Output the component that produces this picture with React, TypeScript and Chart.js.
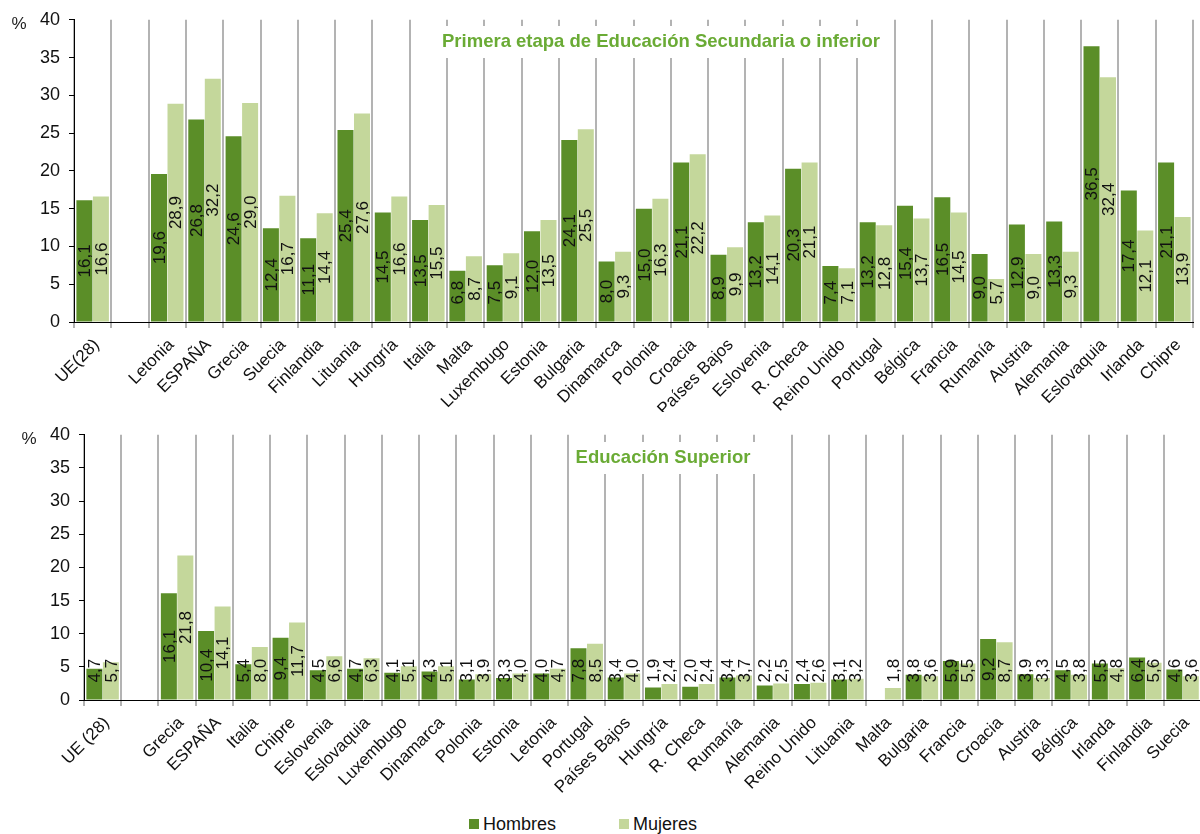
import React, { useEffect, useRef } from 'react';
import { Chart, registerables } from 'chart.js';

Chart.register(...registerables);

const FONT = "'Liberation Sans', Arial, Helvetica, sans-serif";
const DARK = '#5b8e28';
const LIGHT = '#c4d79b';
const TITLE_COLOR = '#6aab35';
const GRID = '#b3b3b3';

const SERIES_NAMES = ['Hombres', 'Mujeres'];

const secCategories = [
  'UE(28)', '', 'Letonia', 'ESPAÑA', 'Grecia', 'Suecia', 'Finlandia', 'Lituania', 'Hungría', 'Italia',
  'Malta', 'Luxembugo', 'Estonia', 'Bulgaria', 'Dinamarca', 'Polonia', 'Croacia', 'Países Bajos',
  'Eslovenia', 'R. Checa', 'Reino Unido', 'Portugal', 'Bélgica', 'Francia', 'Rumanía', 'Austria',
  'Alemania', 'Eslovaquia', 'Irlanda', 'Chipre',
];
const secHombres = [
  16.1, null, 19.6, 26.8, 24.6, 12.4, 11.1, 25.4, 14.5, 13.5,
  6.8, 7.5, 12.0, 24.1, 8.0, 15.0, 21.1, 8.9,
  13.2, 20.3, 7.4, 13.2, 15.4, 16.5, 9.0, 12.9,
  13.3, 36.5, 17.4, 21.1,
];
const secMujeres = [
  16.6, null, 28.9, 32.2, 29.0, 16.7, 14.4, 27.6, 16.6, 15.5,
  8.7, 9.1, 13.5, 25.5, 9.3, 16.3, 22.2, 9.9,
  14.1, 21.1, 7.1, 12.8, 13.7, 14.5, 5.7, 9.0,
  9.3, 32.4, 12.1, 13.9,
];

const supCategories = [
  'UE (28)', '', 'Grecia', 'ESPAÑA', 'Italia', 'Chipre', 'Eslovenia', 'Eslovaquia', 'Luxembugo',
  'Dinamarca', 'Polonia', 'Estonia', 'Letonia', 'Portugal', 'Países Bajos', 'Hungría', 'R. Checa',
  'Rumanía', 'Alemania', 'Reino Unido', 'Lituania', 'Malta', 'Bulgaria', 'Francia', 'Croacia',
  'Austria', 'Bélgica', 'Irlanda', 'Finlandia', 'Suecia',
];
const supHombres = [
  4.7, null, 16.1, 10.4, 5.4, 9.4, 4.5, 4.7, 4.1,
  4.3, 3.1, 3.3, 4.0, 7.8, 3.4, 1.9, 2.0,
  3.4, 2.2, 2.4, 3.1, null, 3.8, 5.9, 9.2,
  3.9, 4.5, 5.5, 6.4, 4.6,
];
const supMujeres = [
  5.7, null, 21.8, 14.1, 8.0, 11.7, 6.6, 6.3, 5.1,
  5.1, 3.9, 4.0, 4.7, 8.5, 4.0, 2.4, 2.4,
  3.7, 2.5, 2.6, 3.2, 1.8, 3.6, 5.5, 8.7,
  3.3, 3.8, 4.8, 5.6, 3.6,
];

const Y_MIN = 0;
const Y_MAX = 40;
const Y_STEP = 5;

const TITLE_SEC = 'Primera etapa de Educación Secundaria o inferior';
const TITLE_SUP = 'Educación Superior';
const UNIT = '%';

type PanelOpts = {
  title: string;
  titleX: number;
  titleY: number;
  yWidth: number;
  xHeight: number;
  padRight: number;
};

function decorPlugin(p: PanelOpts) {
  return {
    id: 'panelDecor',
    afterDatasetsDraw(chart: any) {
      const ctx = chart.ctx as CanvasRenderingContext2D;
      const area = chart.chartArea;
      // panel title with white background
      ctx.save();
      ctx.font = `bold 18.5px ${FONT}`;
      const tw = ctx.measureText(p.title).width;
      ctx.fillStyle = '#ffffff';
      ctx.fillRect(p.titleX - tw / 2 - 6, p.titleY - 16, tw + 12, 32);
      ctx.fillStyle = TITLE_COLOR;
      ctx.textAlign = 'center';
      ctx.textBaseline = 'middle';
      ctx.fillText(p.title, p.titleX, p.titleY);
      ctx.restore();

      // data labels
      ctx.save();
      ctx.font = `17px ${FONT}`;
      ctx.fillStyle = '#111111';
      ctx.textAlign = 'center';
      ctx.textBaseline = 'middle';
      chart.data.datasets.forEach((ds: any, di: number) => {
        const meta = chart.getDatasetMeta(di);
        meta.data.forEach((bar: any, i: number) => {
          const v = ds.data[i];
          if (v === null || v === undefined) return;
          const txt = v.toFixed(1).replace('.', ',');
          const w = ctx.measureText(txt).width;
          const center = (bar.y + bar.base) / 2;
          const cy = Math.min(center, bar.base - 17 - w / 2);
          ctx.save();
          ctx.translate(bar.x, cy);
          ctx.rotate(-Math.PI / 2);
          ctx.fillText(txt, 0, 1);
          ctx.restore();
        });
      });
      ctx.restore();

      // unit label
      ctx.save();
      ctx.font = `17px ${FONT}`;
      ctx.fillStyle = '#222222';
      ctx.textAlign = 'center';
      ctx.textBaseline = 'middle';
      ctx.fillText(UNIT, area.left - 55, area.top + 5);
      ctx.restore();
    },
  };
}

function makeConfig(categories: string[], hombres: (number | null)[], mujeres: (number | null)[], p: PanelOpts): any {
  return {
    type: 'bar',
    data: {
      labels: categories,
      datasets: [
        { label: SERIES_NAMES[0], data: hombres, backgroundColor: DARK, categoryPercentage: 0.885, barPercentage: 0.97 },
        { label: SERIES_NAMES[1], data: mujeres, backgroundColor: LIGHT, categoryPercentage: 0.885, barPercentage: 0.97 },
      ],
    },
    options: {
      responsive: false,
      animation: false,
      devicePixelRatio: 1,
      layout: { padding: { top: 17, right: p.padRight, left: 0, bottom: 0 } },
      plugins: {
        legend: { display: false },
        tooltip: { enabled: false },
        title: { display: false },
      },
      scales: {
        x: {
          offset: true,
          grid: {
            offset: true,
            color: GRID,
            lineWidth: 2,
            drawOnChartArea: true,
            drawTicks: true,
            tickLength: 6,
          },
          border: { display: true, color: '#000000', width: 1 },
          ticks: {
            autoSkip: false,
            maxRotation: 45,
            minRotation: 45,
            color: '#111111',
            padding: 7,
            labelOffset: 4,
            font: { family: FONT, size: 17 },
          },
          afterFit: (scale: any) => { scale.height = p.xHeight; },
        },
        y: {
          z: 1,
          min: Y_MIN,
          max: Y_MAX,
          ticks: {
            stepSize: Y_STEP,
            color: '#111111',
            padding: 9,
            font: { family: FONT, size: 18 },
          },
          grid: { drawOnChartArea: false, drawTicks: true, tickLength: 5, color: '#000000' },
          border: { display: true, color: '#000000', width: 1 },
          afterFit: (scale: any) => { scale.width = p.yWidth; },
        },
      },
    },
    plugins: [decorPlugin(p)],
  };
}

function Panel(props: { categories: string[]; hombres: (number | null)[]; mujeres: (number | null)[]; p: PanelOpts; width: number; height: number; top: number }) {
  const ref = useRef<HTMLCanvasElement | null>(null);
  useEffect(() => {
    if (!ref.current) return;
    const chart = new Chart(ref.current, makeConfig(props.categories, props.hombres, props.mujeres, props.p));
    return () => chart.destroy();
  }, []);
  return (
    <canvas
      ref={ref}
      width={props.width}
      height={props.height}
      style={{ position: 'absolute', left: 0, top: props.top, width: props.width, height: props.height }}
    />
  );
}

export default function App() {
  const colors = [DARK, LIGHT];
  return (
    <div style={{ position: 'absolute', left: 0, top: 0, width: 1200, height: 834, overflow: 'hidden', background: '#ffffff', fontFamily: FONT }}>
      <Panel
        categories={secCategories}
        hombres={secHombres}
        mujeres={secMujeres}
        top={0}
        width={1200}
        height={412}
        p={{ title: TITLE_SEC, titleX: 661, titleY: 42, yWidth: 74, xHeight: 90, padRight: 7 }}
      />
      <Panel
        categories={supCategories}
        hombres={supHombres}
        mujeres={supMujeres}
        top={415}
        width={1204}
        height={390}
        p={{ title: TITLE_SUP, titleX: 663, titleY: 43, yWidth: 84, xHeight: 105, padRight: 0 }}
      />
      <div style={{ position: 'absolute', left: 469, top: 814, display: 'flex', alignItems: 'center', fontSize: 18, color: '#111' }}>
        {SERIES_NAMES.map((name, i) => (
          <div key={name} style={{ display: 'flex', alignItems: 'center', marginRight: i === 0 ? 63 : 0 }}>
            <span style={{ display: 'inline-block', width: 10, height: 10, background: colors[i], marginRight: 4 }} />
            <span style={{ lineHeight: '20px' }}>{name}</span>
          </div>
        ))}
      </div>
    </div>
  );
}
